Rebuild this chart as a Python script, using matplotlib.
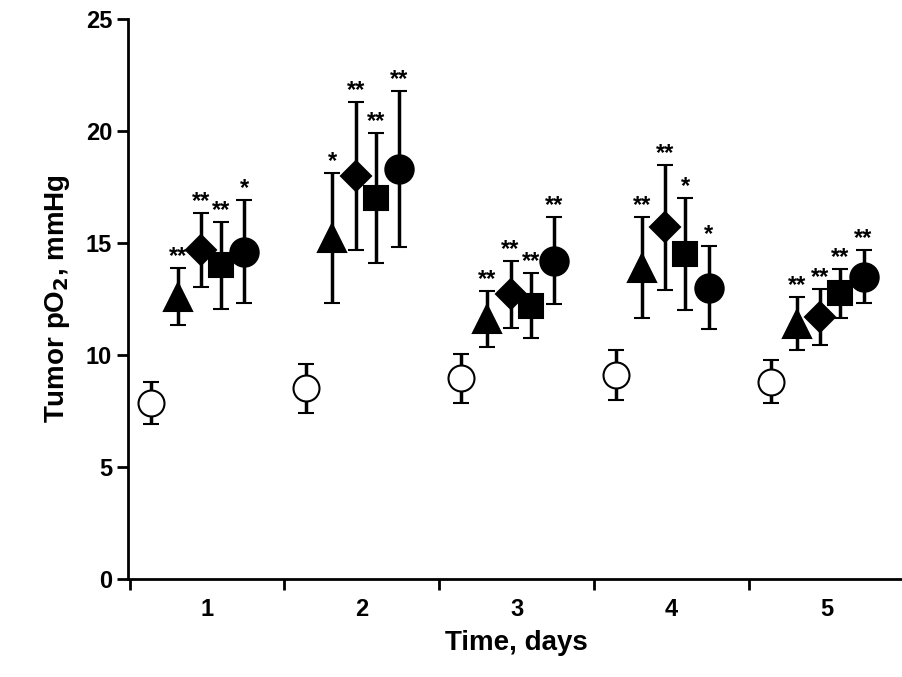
import numpy as np
import matplotlib
matplotlib.use('Agg')
import matplotlib.pyplot as plt

days = [1, 2, 3, 4, 5]
control = [7.85, 8.5, 8.95, 9.1, 8.8]
control_err = [0.95, 1.08, 1.08, 1.12, 0.97]
triangle = [12.6, 15.2, 11.6, 13.9, 11.4]
triangle_err = [1.27, 2.9, 1.25, 2.25, 1.18]
diamond = [14.7, 18.0, 12.7, 15.7, 11.7]
diamond_err = [1.65, 3.3, 1.5, 2.8, 1.25]
square = [14.0, 17.0, 12.2, 14.5, 12.75]
square_err = [1.95, 2.9, 1.45, 2.5, 1.1]
circle = [14.6, 18.3, 14.2, 13.0, 13.5]
circle_err = [2.3, 3.5, 1.95, 1.85, 1.2]
triangle_sig = ['**', '*', '**', '**', '**']
diamond_sig = ['**', '**', '**', '**', '**']
square_sig = ['**', '**', '**', '*', '**']
circle_sig = ['*', '**', '**', '*', '**']

plt.rcParams['font.family'] = 'Liberation Sans'
plt.rcParams['font.weight'] = 'bold'
fig = plt.figure(figsize=(9.02, 6.77), dpi=100)
ax = fig.add_axes([0.142, 0.145, 0.86, 0.827])
x = np.array(days, dtype=float)

series = [
    (control, control_err, -0.36, 'o', 'white', 11, None),
    (triangle, triangle_err, -0.19, '^', 'black', 12, triangle_sig),
    (diamond, diamond_err, -0.04, 'D', 'black', 9, diamond_sig),
    (square, square_err, 0.09, 's', 'black', 10, square_sig),
    (circle, circle_err, 0.24, 'o', 'black', 12, circle_sig),
]
for vals, errs, off, mk, fc, ms, sig in series:
    ax.errorbar(x + off, vals, yerr=errs, fmt=mk, mfc=fc, mec='black', ms=ms * 1.7,
                ecolor='black', elinewidth=2.5, capsize=6, capthick=2.5, mew=1.5, zorder=3)
    if sig:
        for xi, v, e, s in zip(x + off, vals, errs, sig):
            ax.text(xi, v + e + 0.0, s, ha='center', va='bottom', fontsize=17)

ax.set_xlim(0.49, 5.5)
ax.set_ylim(0, 25)
ax.set_yticks([0, 5, 10, 15, 20, 25])
ax.set_xticks([0.5, 1.5, 2.5, 3.5, 4.5])
ax.set_xticklabels([])
ax.set_xticks(days, minor=True)
ax.set_xticklabels([str(d) for d in days], minor=True)
ax.tick_params(axis='x', which='minor', length=0, pad=14, labelsize=17)
ax.tick_params(axis='x', which='major', length=8, width=2, direction='out')
ax.tick_params(axis='y', length=8, width=2, direction='out', labelsize=17)
for s in ['top', 'right']:
    ax.spines[s].set_visible(False)
for s in ['left', 'bottom']:
    ax.spines[s].set_linewidth(2)
ax.set_ylabel('Tumor pO$_\\mathbf{2}$, mmHg', fontsize=20, fontweight='bold', labelpad=10)
ax.set_xlabel('Time, days', fontsize=20, fontweight='bold', labelpad=6)
fig.savefig('out.png', dpi=100)
